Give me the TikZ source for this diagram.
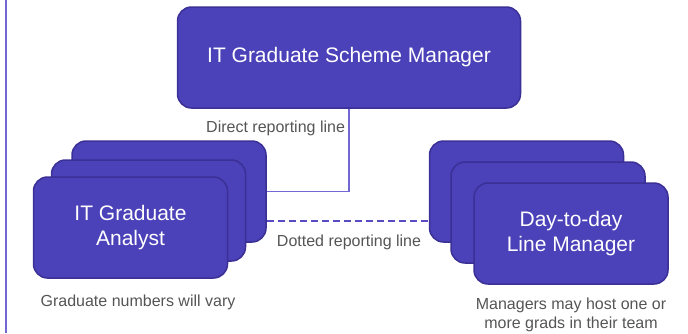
\documentclass[tikz,border=0pt]{standalone}
\usepackage{fontspec}
\setmainfont{Liberation Sans}
\usepackage{xcolor}
\definecolor{boxfill}{RGB}{75,65,184}
\definecolor{boxline}{RGB}{58,48,150}
\definecolor{linkline}{RGB}{115,103,212}
\definecolor{dotline}{RGB}{88,76,196}
\definecolor{notegray}{RGB}{85,85,85}

\begin{document}
\begin{tikzpicture}[
    x=1pt, y=-1pt,
    role/.style={rectangle, draw=boxline, line width=1.5pt, rounded corners=14pt, fill=boxfill, text=white, minimum width=194pt, minimum height=101pt, align=center, font=\fontsize{21}{25}\selectfont},
    link/.style={draw=linkline, line width=1.3pt},
    note/.style={text=notegray, align=center, font=\fontsize{16}{19}\selectfont}
]
    \useasboundingbox (0,0) rectangle (688,333);
    % Side rule
    \coordinate (railtop) at (6,0);
    \coordinate (railbot) at (6,333);
    \draw[linkline, line width=2pt] (railtop) -- (railbot);

    % Components
    \node[role, minimum width=343pt] (scheme) at (349,57.5) {IT Graduate Scheme Manager};

    \node[role] (gradback) at (169,191.5) {};
    \node[role] (gradmid) at (148.5,210.5) {};
    \node[role] (grad) at (130.5,227.5) {IT Graduate\\Analyst};

    \node[role] (lineback) at (526.5,191.5) {};
    \node[role] (linemid) at (548,212.5) {};
    \node[role] (line) at (571,233.5) {Day-to-day\\Line Manager};

    % Connections
    \draw[link] (scheme.south) |- (gradback.east);
    \draw[link, draw=dotline, line width=1.5pt, dash pattern=on 7pt off 4pt] ([yshift=-29.5pt]gradback.east) -- ([yshift=-29.5pt]lineback.west);

    % Labels
    \node[note, anchor=east] (direct) at (348.5,128) {Direct reporting line};
    \node[note] (dotted) at (349,242) {Dotted reporting line};
    \node[note] (gradnote) at (138,302) {Graduate numbers will vary};
    \node[note] (linenote) at (571,314.5) {Managers may host one or\\more grads in their team};
\end{tikzpicture}
\end{document}
